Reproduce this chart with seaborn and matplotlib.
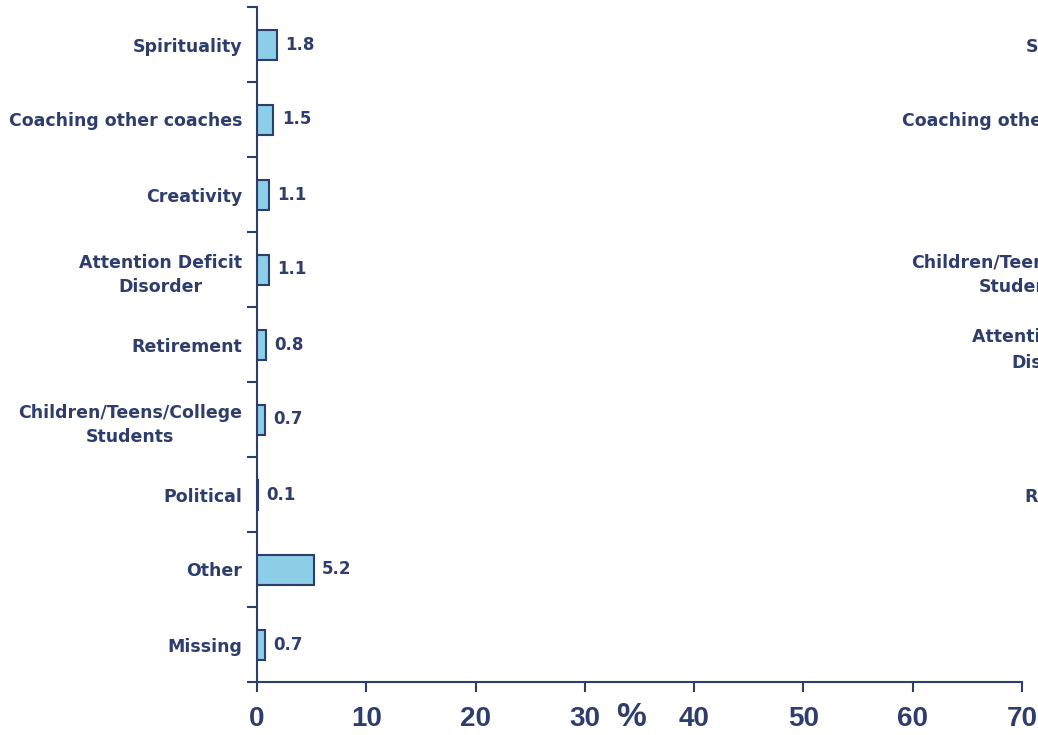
import pandas as pd
import matplotlib
matplotlib.use("Agg")
import matplotlib.pyplot as plt
import seaborn as sns

# Data
categories = ["Spirituality", "Coaching other coaches", "Creativity",
              "Attention Deficit\nDisorder", "Retirement",
              "Children/Teens/College\nStudents", "Political", "Other", "Missing"]
percent = [1.8, 1.5, 1.1, 1.1, 0.8, 0.7, 0.1, 5.2, 0.7]

# second (cut off) panel on the right, only its labels show
categories_right = ["Spirituality", "Coaching other coaches", "Creativity",
                    "Children/Teens/College\nStudents", "Attention Deficit\nDisorder",
                    "Political", "Retirement", "Other", "Missing"]

x_ticks = [0, 10, 20, 30, 40, 50, 60, 70]

NAVY = "#2E3D6B"
FILL = "#8CCDE8"
NARROW = ["Liberation Sans Narrow", "Liberation Sans"]

sns.set_style("white")
plt.rcParams["font.family"] = ["DejaVu Sans"]
plt.rcParams["text.color"] = NAVY


def style_axis(ax, labels):
    ax.set_ylim(len(labels) - 0.5, -0.5)
    ax.set_xlim(0, 70)
    ax.set_yticks(range(len(labels)))
    ax.set_yticklabels(labels, fontsize=12.5, fontweight="bold", color=NAVY)
    for t in ax.get_yticklabels():
        t.set_multialignment("center")
        t.set_linespacing(1.5)
    ax.set_yticks([i - 0.5 for i in range(len(labels) + 1)], minor=True)
    ax.tick_params(axis="y", which="major", left=False, length=0, pad=10.5)
    ax.tick_params(axis="y", which="minor", left=True, length=7, width=1.5,
                   color=NAVY, direction="out")
    ax.set_xticks(x_ticks)
    ax.set_xticklabels([str(v) for v in x_ticks], fontsize=20, fontweight="bold",
                       color=NAVY, family=NARROW)
    ax.tick_params(axis="x", bottom=True, length=7, width=1.5, color=NAVY,
                   direction="out", pad=10)
    for s in ["top", "right"]:
        ax.spines[s].set_visible(False)
    for s in ["left", "bottom"]:
        ax.spines[s].set_color(NAVY)
        ax.spines[s].set_linewidth(1.5)
    ax.set_xlabel("")
    ax.set_ylabel("")


fig = plt.figure(figsize=(10.38, 7.35), dpi=100)
ax = fig.add_axes([257 / 1038, 1 - 682 / 735, 765 / 1038, 675 / 735])

df = pd.DataFrame({"category": categories, "pct": percent})
sns.barplot(data=df, x="pct", y="category", orient="h", color=FILL, saturation=1,
            edgecolor=NAVY, linewidth=1.5, width=0.4, ax=ax)
ax.bar_label(ax.containers[0], labels=[f"{v:.1f}" for v in percent], padding=6,
             fontsize=12, fontweight="bold", color=NAVY)
style_axis(ax, categories)

ax.text(34.2, -0.052, "%", transform=ax.get_xaxis_transform(), ha="center", va="center",
        fontsize=24, fontweight="bold", color=NAVY, family=NARROW)

# right panel sits mostly outside the canvas
ax2 = fig.add_axes([1150 / 1038, 1 - 682 / 735, 765 / 1038, 675 / 735])
style_axis(ax2, categories_right)

fig.savefig("out.png", dpi=100)
